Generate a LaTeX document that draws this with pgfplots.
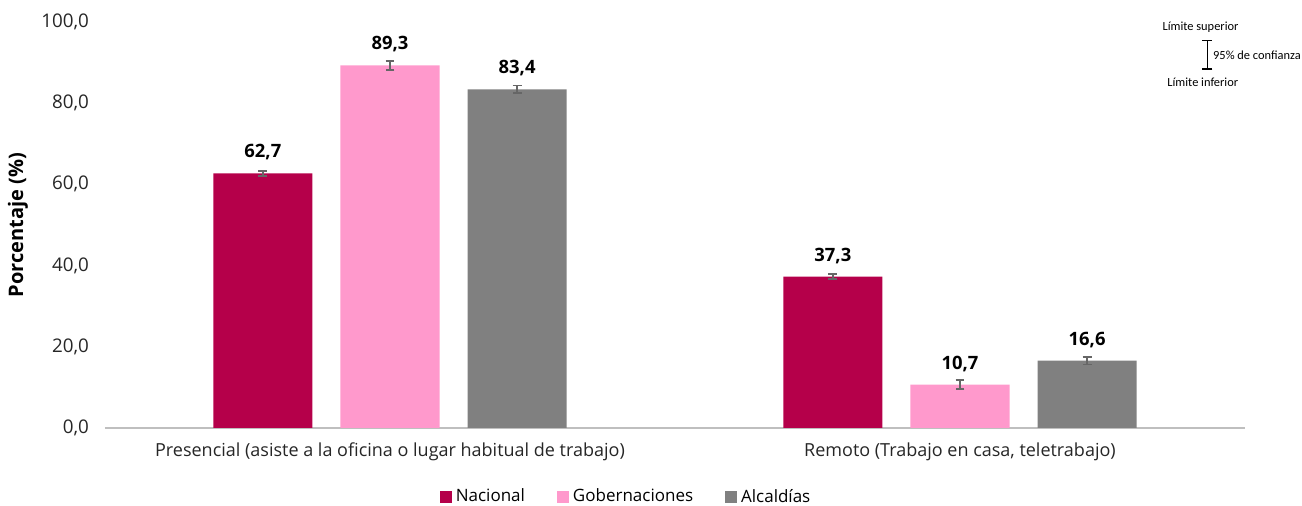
\documentclass[border=0pt]{standalone}
\usepackage{pgfplots}
\pgfplotsset{compat=1.18}
\usepackage{fontspec}
\setmainfont{Open Sans}
\newfontfamily\calib{Carlito}
\usetikzlibrary{calc,arrows.meta}
\definecolor{nac}{HTML}{B5004A}
\definecolor{gob}{HTML}{FF99CC}
\definecolor{alc}{HTML}{808080}
\pgfplotsset{
  errstyle/.style={
    error bars/y dir=both, error bars/y explicit,
    error bars/error bar style={draw=black!60, line width=0.7pt},
    error bars/error mark options={rotate=90, mark size=2.2pt, draw=black!60, line width=0.7pt}
  }
}
\begin{document}
\begin{tikzpicture}
\begin{axis}[
  scale only axis, width=570pt, height=203pt,
  xmin=-0.5, xmax=1.5, ymin=0, ymax=100,
  clip=false,
  xtick={0,1},
  xticklabels={{Presencial (asiste a la oficina o lugar habitual de trabajo)}, {Remoto (Trabajo en casa, teletrabajo)}},
  ytick={0,20,40,60,80,100},
  tick label style={text=black!85},
  xticklabel style={yshift=-4pt, font=\fontsize{9}{10}\selectfont},
  yticklabel style={xshift=-4.5pt, font=\fontsize{9.4}{10}\selectfont, /pgf/number format/.cd, fixed, fixed zerofill, precision=1, use comma, assume math mode=true},
  major tick length=0pt,
  axis x line*=bottom, axis y line*=left,
  x axis line style={draw=black!25, line width=0.6pt, -},
  y axis line style={draw=none},
  ylabel={\textbf{Porcentaje (\%)}}, ylabel style={font=\fontsize{9}{10}\selectfont},
  every axis y label/.style={at={(rel axis cs:0,0.5)}, rotate=90, yshift=43.5pt, anchor=center},
  ybar, bar width=0.174,
  nodes near coords, nodes near coords style={font=\bfseries\fontsize{9.2}{10}\selectfont, text=black, anchor=center, yshift=10.5pt, /pgf/number format/.cd, fixed, fixed zerofill, precision=1, use comma, assume math mode=true},
  legend columns=3,
  legend style={draw=none, at={(rel axis cs:0.458,-0.17)}, anchor=center, font=\fontsize{8.5}{10}\selectfont, /tikz/every even column/.append style={column sep=14pt}},
  legend image code/.code={\fill[#1] (0pt,-3pt) rectangle (6pt,3pt);},
]
\addplot[fill=nac, draw=none, bar shift=-0.223, errstyle] coordinates {(0,62.7) +- (0,0.6) (1,37.3) +- (0,0.6)};
\addplot[fill=gob, draw=none, bar shift=0, errstyle] coordinates {(0,89.3) +- (0,1.1) (1,10.7) +- (0,1.1)};
\addplot[fill=alc, draw=none, bar shift=0.223, errstyle] coordinates {(0,83.4) +- (0,0.9) (1,16.6) +- (0,0.9)};
\legend{Nacional, Gobernaciones, Alcaldías}
\coordinate (bl) at (rel axis cs:0,0);
\coordinate (tr) at (rel axis cs:1,1);
\node[font=\calib\fontsize{6.2}{7}\selectfont] at (rel axis cs:0.961,0.988) {Límite superior};
\node[font=\calib\fontsize{6.2}{7}\selectfont] at (rel axis cs:0.963,0.852) {Límite inferior};
\node[font=\calib\fontsize{6.2}{7}\selectfont, anchor=west, inner sep=1pt] at (rel axis cs:0.970,0.919) {95\% de confianza};
\draw[line width=0.8pt, {Bar[width=5pt]}-{Bar[width=5pt]}] (rel axis cs:0.967,0.882) -- (rel axis cs:0.967,0.956);
\end{axis}
\pgfresetboundingbox
\path ($(bl)+(-52.5pt,-39pt)$) rectangle ($(tr)+(28.5pt,11pt)$);
\end{tikzpicture}
\end{document}
